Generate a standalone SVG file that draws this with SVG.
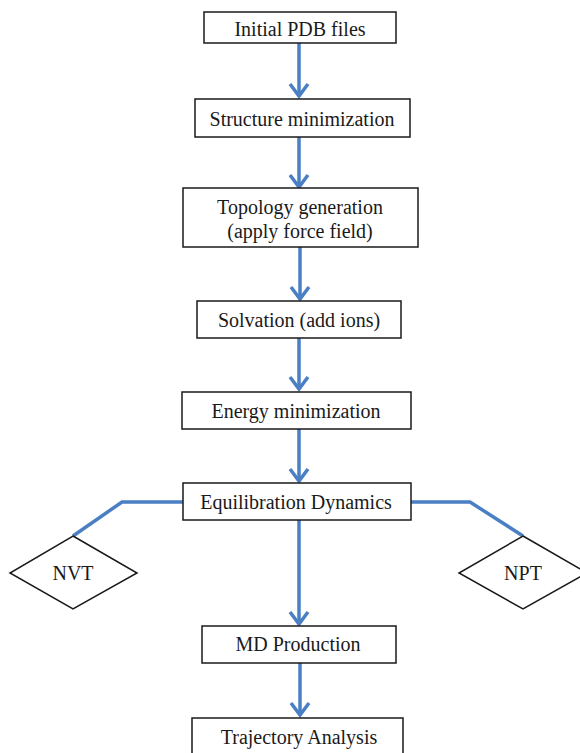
<svg xmlns="http://www.w3.org/2000/svg" width="580" height="753" viewBox="0 0 580 753">
  <style>
    .box { fill: #ffffff; stroke: #1a1a1a; stroke-width: 1.5; }
    .lbl { font-family: "Liberation Serif", "Times New Roman", serif; font-size: 20px; fill: #1a1a1a; text-anchor: middle; dominant-baseline: central; }
    .flow { fill: none; stroke: #4a7fc4; stroke-width: 3.5; }
    .head { fill: none; stroke: #4a7fc4; stroke-width: 3.5; stroke-linejoin: miter; stroke-linecap: butt; }
  </style>
  <rect width="580" height="753" fill="#ffffff"/>

  <!-- connectors -->
  <g id="connectors">
    <path class="flow" d="M299,43 V95"/>
    <path class="head" d="M290,84 L299,96 L308,84"/>
    <path class="flow" d="M299,137 V186"/>
    <path class="head" d="M290,175 L299,187 L308,175"/>
    <path class="flow" d="M300,247 V298"/>
    <path class="head" d="M291,287 L300,299 L309,287"/>
    <path class="flow" d="M299,338 V388"/>
    <path class="head" d="M290,377 L299,389 L308,377"/>
    <path class="flow" d="M299,429 V480"/>
    <path class="head" d="M290,469 L299,481 L308,469"/>
    <path class="flow" d="M299,520 V623"/>
    <path class="head" d="M290,612 L299,624 L308,612"/>
    <path class="flow" d="M300,663 V714"/>
    <path class="head" d="M291,703 L300,715 L309,703"/>
    <!-- branches to the ensemble diamonds -->
    <path class="flow" d="M183,502 H122 L73,536"/>
    <path class="flow" d="M411,502 H470 L523,536"/>
  </g>

  <g id="n-initial">
    <rect class="box" x="204" y="12" width="192" height="31"/>
    <text class="lbl" x="300" y="29">Initial PDB files</text>
  </g>
  <g id="n-structure">
    <rect class="box" x="195" y="99" width="215" height="38"/>
    <text class="lbl" x="302" y="119">Structure minimization</text>
  </g>
  <g id="n-topology">
    <rect class="box" x="183" y="188" width="235" height="59"/>
    <text class="lbl" x="300" y="207">Topology generation</text>
    <text class="lbl" x="300" y="231"> (apply force field)</text>
  </g>
  <g id="n-solvation">
    <rect class="box" x="197" y="301" width="204" height="37"/>
    <text class="lbl" x="299" y="320">Solvation (add ions)</text>
  </g>
  <g id="n-energy">
    <rect class="box" x="182" y="392" width="229" height="37"/>
    <text class="lbl" x="296" y="411">Energy minimization</text>
  </g>
  <g id="n-equilibration">
    <rect class="box" x="183" y="483" width="228" height="37"/>
    <text class="lbl" x="296" y="502">Equilibration Dynamics</text>
  </g>
  <g id="n-nvt">
    <polygon class="box" points="73,536 137,573 73,609 10,573"/>
    <text class="lbl" x="73" y="573">NVT</text>
  </g>
  <g id="n-npt">
    <polygon class="box" points="523,536 587,573 523,609 459,573"/>
    <text class="lbl" x="523" y="573">NPT</text>
  </g>
  <g id="n-md">
    <rect class="box" x="202" y="626" width="194" height="37"/>
    <text class="lbl" x="298" y="644">MD Production</text>
  </g>
  <g id="n-trajectory">
    <rect class="box" x="192" y="718" width="211" height="45"/>
    <text class="lbl" x="299" y="737">Trajectory Analysis</text>
  </g>
</svg>
